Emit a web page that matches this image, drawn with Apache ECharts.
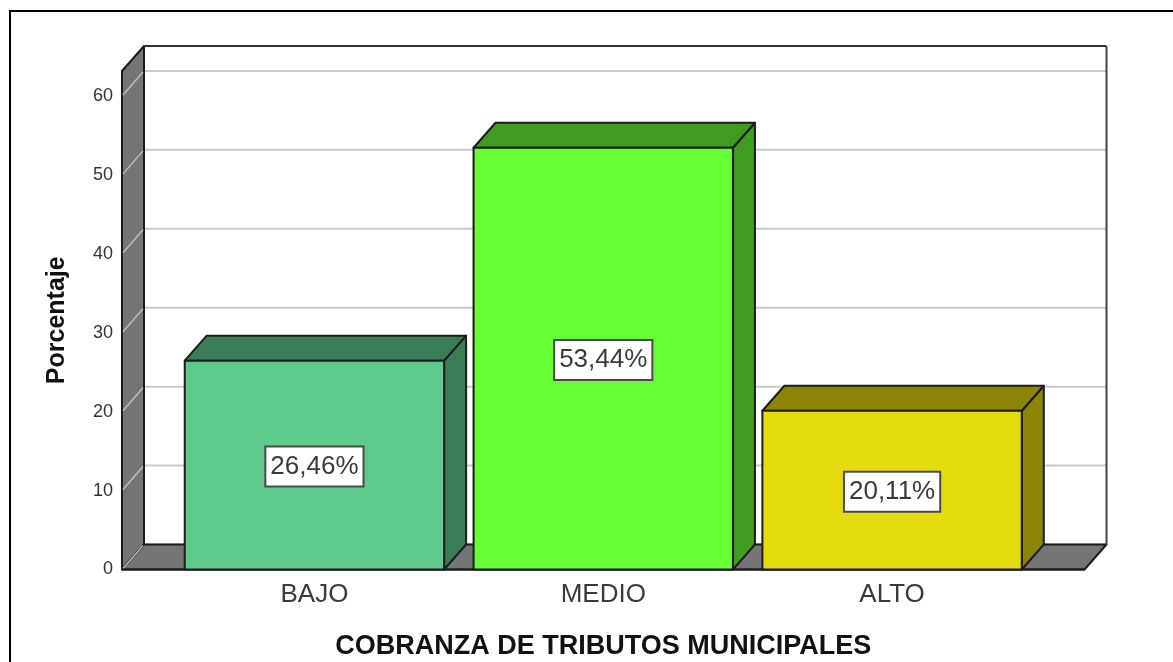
<!DOCTYPE html>
<html><head><meta charset="utf-8">
<style>html,body{margin:0;padding:0;background:#fff}#c{width:1173px;height:662px}</style>
<script src="https://cdn.jsdelivr.net/npm/echarts@6/dist/echarts.min.js"></script>
</head><body><div id="c"></div>
<script>
const categories = ['BAJO', 'MEDIO', 'ALTO'];
const percentages = [26.46, 53.44, 20.11];
const valueLabels = ['26,46%', '53,44%', '20,11%'];
const frontColors = ['#5ECB8C', '#66FF33', '#E5DA0E'];
const sideColors = ['#3A7C55', '#3F9C20', '#8C8508'];
const gridTicks = [0, 10, 20, 30, 40, 50, 60];
const yMax = 63.16;
const depthX = 22, depthY = 25, framePad = 48, barRatio = 0.898;
const edge = '#1c1c1c', wall = '#757575', font = '"Liberation Sans", Arial, sans-serif';

function poly(points, fill, stroke, lineWidth) {
  return { type: 'polygon', shape: { points }, style: { fill, stroke, lineWidth, lineJoin: 'round' } };
}
function line(x1, y1, x2, y2, stroke, lineWidth) {
  return { type: 'line', shape: { x1, y1, x2, y2 }, style: { stroke, lineWidth } };
}
function renderFrame(params, api) {
  const g = params.coordSys;
  const L = g.x - framePad, R = g.x + g.width + framePad, T = g.y, B = g.y + g.height;
  const kids = [];
  gridTicks.forEach(v => {
    const y = api.coord([0, v])[1];
    if (v > 0) kids.push(line(L + depthX, y - depthY, R + depthX, y - depthY, '#cacaca', 2));
  });
  kids.push(line(L + depthX, B - depthY, R + depthX, B - depthY, '#b0b0b0', 2));
  kids.push(poly([[L, B], [L, T], [L + depthX, T - depthY], [L + depthX, B - depthY]], wall, edge, 2));
  kids.push(poly([[L, B], [L + depthX, B - depthY], [R + depthX, B - depthY], [R, B]], wall, edge, 2));
  gridTicks.forEach(v => {
    const y = api.coord([0, v])[1];
    kids.push(line(L + 1, y - 1, L + depthX - 1, y - depthY + 1, '#bdbdbd', 1.5));
  });
  kids.push(line(L + depthX, T - depthY, R + depthX, T - depthY, '#333', 2));
  kids.push(line(R + depthX, T - depthY, R + depthX, B - depthY, '#444', 2));
  kids.push(line(L, B, R, B, edge, 2));
  return { type: 'group', children: kids, silent: true };
}
function renderBar(params, api) {
  const i = api.value(0), v = api.value(1);
  const c = api.coord([i, 0]), t = api.coord([i, v]);
  const w = api.size([1, 0])[0] * barRatio;
  const x0 = c[0] - w / 2, x1 = c[0] + w / 2, y0 = c[1], y1 = t[1];
  return { type: 'group', children: [
    poly([[x1, y0], [x1, y1], [x1 + depthX, y1 - depthY], [x1 + depthX, y0 - depthY]], sideColors[i], edge, 2),
    poly([[x0, y1], [x0 + depthX, y1 - depthY], [x1 + depthX, y1 - depthY], [x1, y1]], sideColors[i], edge, 2),
    poly([[x0, y0], [x0, y1], [x1, y1], [x1, y0]], frontColors[i], edge, 2),
    { type: 'text', z2: 10, style: {
        text: valueLabels[i], x: c[0], y: (y0 + y1) / 2 + 1.5, align: 'center', verticalAlign: 'middle',
        fill: '#3a3a3a', font: '26px ' + font, lineHeight: 30,
        backgroundColor: '#fff', borderColor: '#4a4a4a', borderWidth: 2, padding: [4, 4] } }
  ]};
}
const chart = echarts.init(document.getElementById('c'), null, { renderer: 'canvas' });
chart.setOption({
  animation: false,
  backgroundColor: '#fff',
  graphic: [{ type: 'rect', silent: true, z: -1, shape: { x: 10, y: 11, width: 1300, height: 800 },
    style: { fill: 'none', stroke: '#000', lineWidth: 2 } }],
  grid: { left: 170, right: 136.5, top: 71, bottom: 92.5, containLabel: false, outerBoundsMode: 'none' },
  xAxis: {
    type: 'category', data: categories,
    axisLine: { show: false }, axisTick: { show: false }, splitLine: { show: false },
    axisLabel: { color: '#3a3a3a', fontFamily: font, fontSize: 26, margin: 12 },
    name: 'COBRANZA DE TRIBUTOS MUNICIPALES', nameLocation: 'middle', nameGap: 64,
    nameTextStyle: { color: '#111', fontFamily: font, fontSize: 27, fontWeight: 'bold' }
  },
  yAxis: {
    type: 'value', min: 0, max: yMax, interval: 10,
    axisLine: { show: false }, axisTick: { show: false }, splitLine: { show: false },
    axisLabel: { color: '#333', fontFamily: font, fontSize: 18, margin: 57, showMaxLabel: false },
    name: 'Porcentaje', nameLocation: 'middle', nameGap: 100, nameRotate: 90,
    nameTextStyle: { color: '#111', fontFamily: font, fontSize: 25, fontWeight: 'bold' }
  },
  series: [
    { type: 'custom', silent: true, z: 1, renderItem: renderFrame, data: [[0, 0]], encode: { x: 0, y: 1 } },
    { type: 'custom', silent: true, z: 2, renderItem: renderBar,
      data: percentages.map((p, i) => [i, p]), encode: { x: 0, y: 1 } }
  ]
});
</script></body></html>
